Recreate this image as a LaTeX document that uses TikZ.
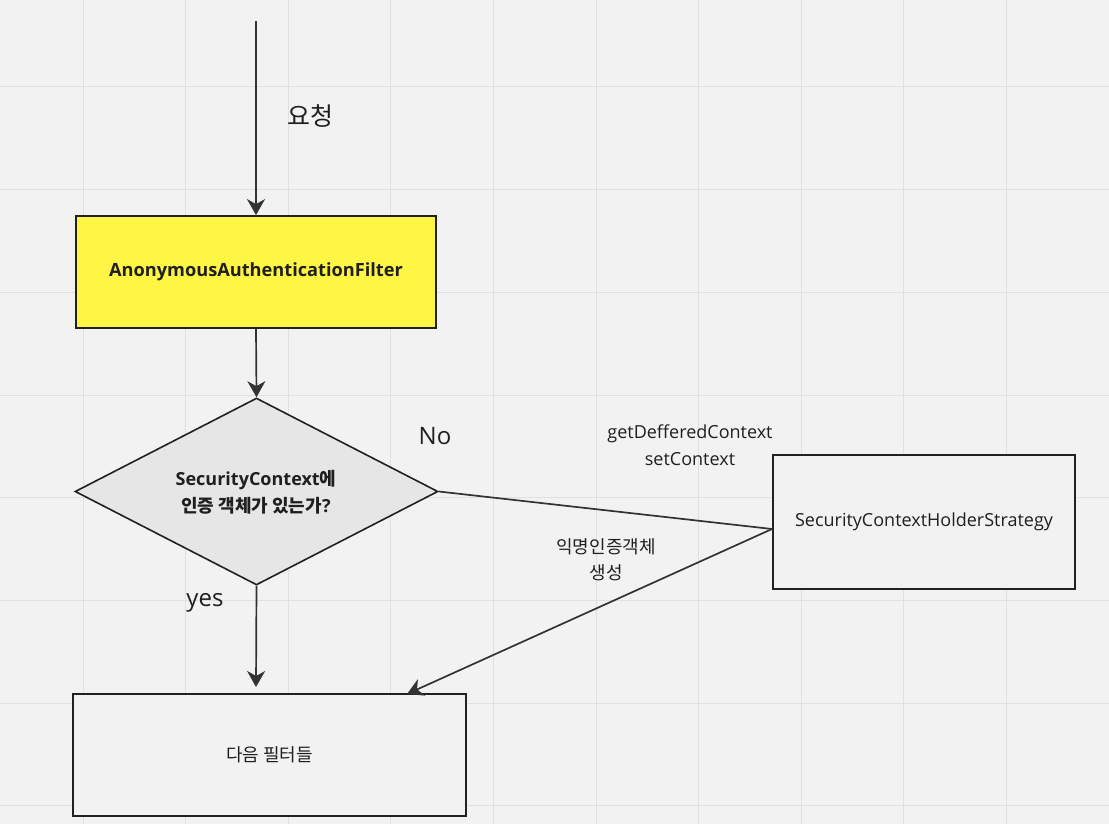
\documentclass[tikz,border=0pt]{standalone}
\usepackage{fontspec}
\setmainfont{Open Sans}
\newfontfamily\kr{Noto Sans CJK KR}
\usetikzlibrary{arrows.meta,shapes.geometric}
\definecolor{bg}{HTML}{F2F2F2}
\definecolor{gridc}{HTML}{E0E0E0}
\definecolor{lnc}{HTML}{333333}
\definecolor{yel}{HTML}{FFF544}
\definecolor{dia}{HTML}{E6E6E6}
\definecolor{txt}{HTML}{1F1F1F}
\tikzset{
  box/.style={draw=black!87, line width=1.8pt, inner sep=0pt, text=txt},
  conn/.style={draw=lnc, line width=1.7pt},
  arr/.style={conn, -{Stealth[length=16pt,width=18pt,inset=5pt]}},
  lbl/.style={text=txt, inner sep=0pt, align=center},
}
\begin{document}
\begin{tikzpicture}[x=1pt,y=-1pt]
\fill[bg] (0,0) rectangle (1109,824);
\useasboundingbox (0,0) rectangle (1109,824);
\foreach \i in {0,...,10} {
  \draw[gridc, line width=1pt] ({83+102.6*\i},0) -- ({83+102.6*\i},824);
}
\foreach \j in {0,...,7} {
  \draw[gridc, line width=1pt] (0,{87+102.7*\j}) -- (1109,{87+102.7*\j});
}
% nodes
\coordinate (start) at (256,21);
\node[box, fill=yel, minimum width=360pt, minimum height=112pt] (filter) at (256,272)
  {\fontsize{18.2}{22}\selectfont\bfseries AnonymousAuthenticationFilter};
\node[box, fill=dia, diamond, aspect=1.93, minimum width=363pt, minimum height=187pt, line width=1.6pt] (check) at (256.5,491.5) {};
\node[lbl, font=\fontsize{18}{27}\selectfont\bfseries] (checktxt) at (256,492)
  {SecurityContext{\kr 에}\\{\kr 인증 객체가 있는가}?};
\node[box, fill=bg, minimum width=302pt, minimum height=134pt] (strategy) at (924,522)
  {\fontsize{18}{22}\selectfont SecurityContextHolderStrategy};
\node[box, fill=bg, minimum width=393pt, minimum height=122pt] (next) at (269.5,755)
  {\fontsize{18}{22}\selectfont\kr 다음 필터들};
\coordinate (meet) at (772,529);
\coordinate (nextin) at (407,694);
\coordinate (yesin) at (256,687);
% connectors
\draw[arr] (start) -- (filter.north);
\draw[arr] (filter.south) -- (check.north);
\draw[arr] (check.south) -- (yesin);
\draw[conn] (check.east) -- (meet);
\draw[arr] (meet) -- (nextin);
% labels
\node[lbl, font=\fontsize{25}{30}\selectfont\kr] (req) at (310,116) {요청};
\node[lbl, font=\fontsize{24}{30}\selectfont] (no) at (435,436) {No};
\node[lbl, font=\fontsize{24}{30}\selectfont] (yes) at (205,603) {yes};
\node[lbl, font=\fontsize{18}{27.5}\selectfont] (getset) at (690,445) {getDefferedContext\\setContext};
\node[lbl, font=\fontsize{18}{26}\selectfont\kr] (anon) at (606,560) {익명인증객체\\생성};
\end{tikzpicture}
\end{document}
